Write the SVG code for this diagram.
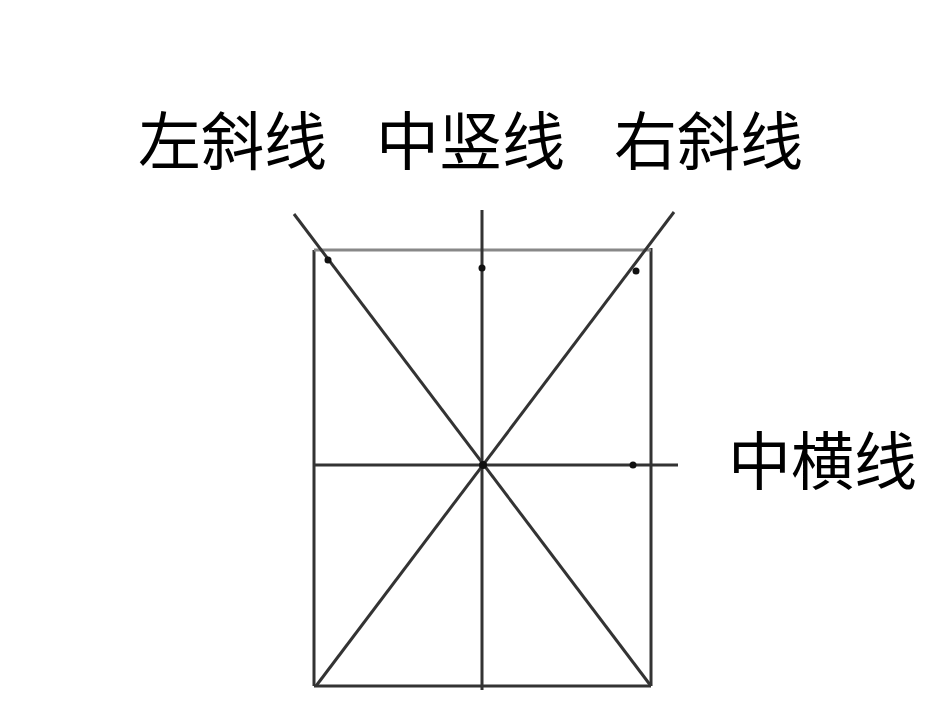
<svg xmlns="http://www.w3.org/2000/svg" width="950" height="713" viewBox="0 0 950 713">
<style>
.l{stroke:#333;stroke-width:3;fill:none}
.t{font-family:"Noto Sans CJK SC","Noto Sans",sans-serif;font-size:63px;fill:#000}
.d{fill:#111}
</style>
<rect width="950" height="713" fill="#fff"/>
<g id="labels">
<text class="t" x="138" y="164">左斜线</text>
<text class="t" x="376" y="164">中竖线</text>
<text class="t" x="614" y="164">右斜线</text>
<text class="t" x="728" y="484">中横线</text>
</g>
<g id="connectors">
<line class="l" x1="314" y1="250" x2="314" y2="686"/>
<line class="l" x1="651" y1="248" x2="651" y2="686"/>
<line class="l" x1="314" y1="686" x2="651" y2="686"/>
<line x1="314" y1="250" x2="651" y2="250" stroke="#888" stroke-width="3"/>
<line class="l" x1="482" y1="210" x2="482" y2="690"/>
<line class="l" x1="313" y1="465" x2="678" y2="465"/>
<line class="l" x1="294" y1="214" x2="651" y2="686"/>
<line class="l" x1="674" y1="212" x2="316" y2="686"/>
</g>
<g id="marks">
<circle class="d" cx="328" cy="260" r="3.5"/>
<circle class="d" cx="482" cy="268" r="3.5"/>
<circle class="d" cx="636" cy="271" r="3.5"/>
<circle class="d" cx="633" cy="465" r="3.5"/>
<circle class="d" cx="483" cy="465" r="4"/>
</g>
</svg>
